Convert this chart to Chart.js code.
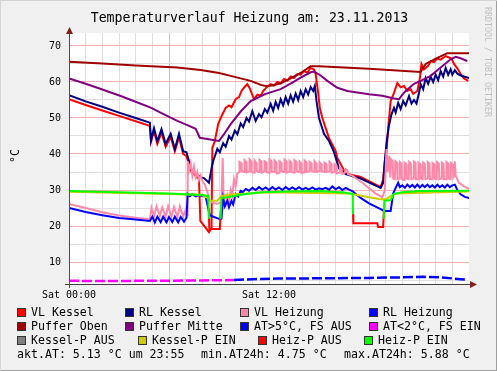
<!DOCTYPE html>
<html><head><meta charset="utf-8">
<script src="https://cdn.jsdelivr.net/npm/chart.js@4/dist/chart.umd.min.js"></script>
<style>
html,body{margin:0;padding:0;background:#f0f0f0;}
#wrap{position:relative;width:497px;height:371px;background:#f0f0f0;overflow:hidden;font-family:"DejaVu Sans Mono",monospace;color:#000;box-sizing:border-box;border-top:1px solid #d4d4d4;border-left:1px solid #d4d4d4;}
#frameR{position:absolute;right:0;top:0;width:1px;height:371px;background:#9e9e9e;}
#frameB{position:absolute;left:0;bottom:0;width:497px;height:1px;background:#9e9e9e;}
#c{position:absolute;left:0;top:0;}
.t{position:absolute;white-space:pre;}
#title{left:0;top:9px;width:497px;text-align:center;font-size:13.2px;line-height:16px;}
#ylab{left:0;top:148px;width:28px;text-align:center;font-size:11.5px;line-height:14px;transform:rotate(-90deg);}
#wm{left:482px;top:6px;font-size:8.3px;color:#c0c0c0;writing-mode:vertical-rl;line-height:9px;}
.lg{position:absolute;font-size:11.6px;line-height:14px;white-space:pre;}
.bx{position:absolute;width:7px;height:7px;border:1px solid #333;}
</style></head><body>
<div id="wrap">
<canvas id="c" width="497" height="371"></canvas>
<div id="title" class="t">Temperaturverlauf Heizung am: 23.11.2013</div>
<div id="ylab" class="t">°C</div>
<div id="wm" class="t">RRDTOOL / TOBI OETIKER</div>
<div id="legend"></div>
<div id="frameR"></div><div id="frameB"></div>
</div>
<script>
// ---- axes ----
const hourTicks = [0,1,2,3,4,5,6,7,8,9,10,11,12,13,14,15,16,17,18,19,20,21,22,23];
const hourLabels = {0:'Sat 00:00', 12:'Sat 12:00'};
const yTicks = [5,10,15,20,25,30,35,40,45,50,55,60,65,70];
const yMin = 3.9, yMax = 73.6;

// ---- series: [hour, °C] ----
const vlKessel = [[0,55.2],[1,53.6],[2,52.1],[3,50.6],[4,49.1],[4.85,47.8],[4.92,43.4],[5.1,46.3],[5.3,42.8],[5.55,46.0],[5.8,42.0],[6.1,44.8],[6.35,40.8],[6.6,44.6],[6.85,40.0],[7.05,39.4],[7.35,35.0],[7.5,34.4],[7.8,33.0],[7.88,21.4],[8.4,18.3],[8.55,19.5],[8.6,41.7],[8.75,43.6],[8.95,48.3],[9.15,50.5],[9.4,52.8],[9.6,53.5],[9.75,53],[10.0,55.2],[10.2,55.8],[10.35,57.5],[10.5,58.4],[10.7,59.4],[10.85,58.2],[11.1,55.2],[11.3,56.5],[11.5,56.2],[11.65,57.5],[11.85,58.5],[12.1,59.4],[12.3,59.0],[12.5,60.0],[12.7,59.6],[12.9,60.8],[13.1,60.4],[13.3,61.5],[13.5,61.1],[13.7,62.2],[13.9,62.0],[14.1,63.0],[14.3,62.6],[14.5,63.9],[14.7,63.5],[14.8,62.2],[14.95,57],[15.05,52.8],[15.2,50],[15.6,44.4],[16.0,40.8],[16.1,38.9],[16.6,34.6],[17.5,33.6],[18.5,31.3],[18.7,30.8],[18.85,33],[18.95,38],[19.05,40.8],[19.15,47.2],[19.3,54.7],[19.5,57],[19.7,59.7],[19.9,58.5],[20.1,58.9],[20.3,57.5],[20.5,58],[20.65,56.7],[20.9,57.5],[21.05,61],[21.15,65],[21.3,63.5],[21.4,63.9],[21.55,64.5],[21.7,65.8],[21.9,65.5],[22.1,66.5],[22.3,66.2],[22.6,67.2],[22.8,66.8],[22.95,66.5],[23.1,65],[23.3,63.8],[23.5,62.2],[23.7,61],[23.95,60.3]];
const rlKessel = [[0,56.3],[1,54.6],[2,53.1],[3,51.5],[4,50.0],[4.85,48.7],[4.92,43.8],[5.1,47.2],[5.3,43.6],[5.55,46.9],[5.8,42.8],[6.1,45.6],[6.35,41.4],[6.6,45.6],[6.85,40.8],[7.05,40.5],[7.35,35.5],[7.6,34.5],[7.9,33.5],[8.1,33.3],[8.4,32],[8.55,36],[8.65,38],[8.9,41.4],[9.05,40.5],[9.25,43],[9.4,42],[9.6,45],[9.75,44],[9.95,46.5],[10.1,45.5],[10.3,48.5],[10.45,47.5],[10.65,50],[10.8,49],[11.0,51.9],[11.2,49.2],[11.4,51.1],[11.55,50.2],[11.75,52.5],[11.9,51.5],[12.1,53.9],[12.25,52],[12.4,54.5],[12.55,52.8],[12.7,55.2],[12.85,53.5],[13.0,55.8],[13.15,54],[13.3,56.3],[13.45,54.5],[13.6,56.8],[13.75,55],[13.9,57.5],[14.05,55.8],[14.2,58],[14.35,56.5],[14.5,58.6],[14.65,57.5],[14.75,58.9],[14.85,54.7],[15.0,50],[15.3,45.6],[15.6,43.6],[15.9,40.5],[16.2,36],[16.6,34.4],[17.5,33.2],[18.5,31],[18.7,30.6],[18.85,32],[18.95,38],[19.05,43],[19.2,48],[19.35,51],[19.5,52.8],[19.6,51.5],[19.75,54.2],[19.9,52.5],[20.05,54.7],[20.2,53.5],[20.4,56.1],[20.55,54],[20.7,55],[20.85,54],[21.0,57],[21.1,59.4],[21.25,58],[21.4,61.1],[21.55,59.5],[21.7,61.5],[21.85,60],[22.0,62],[22.15,60.5],[22.3,63],[22.45,61.5],[22.6,63.9],[22.75,62],[22.9,63.5],[23.0,62],[23.15,63.3],[23.3,62.3],[23.5,61.8],[23.7,61.5],[24,61.1]];
const vlHeizung = [[0,26.1],[1,25.0],[2,23.8],[3,22.9],[4,22.3],[4.85,21.9],[4.95,25.0],[5.1,22.6],[5.25,25.5],[5.45,22.8],[5.6,25.2],[5.8,22.5],[5.95,25.5],[6.15,22.6],[6.3,25.3],[6.5,22.5],[6.65,25.5],[6.85,22.6],[7.0,24.5],[7.08,23],[7.12,38],[7.2,35.5],[7.3,37.5],[7.4,34],[7.5,36.5],[7.6,33.5],[7.7,35],[7.8,32.8],[7.9,34],[8.0,32.5],[8.15,31.5],[8.3,29.5],[8.45,27],[8.6,26.5],[8.9,26.2],[9.15,26.5],[9.22,38.9],[9.28,27],[9.4,25.8],[9.5,28.5],[9.6,26.5],[9.7,30],[9.8,28.5],[9.9,33],[10.0,31],[10.1,34.5],
 [10.2,35],[10.23,37.8],[10.33,37.5],[10.36,35.2],[10.5,35.0],[10.53,38.3],[10.63,37.8],[10.66,34.9],[10.8,35.2],[10.83,38.5],[10.93,38],[10.96,35],[11.1,34.8],[11.13,38.2],[11.23,37.6],[11.26,35.3],[11.4,35],[11.43,38.4],[11.53,38],[11.56,34.8],[11.7,35.2],[11.73,38],[11.83,37.7],[11.86,35],[12.0,34.7],[12.03,38.5],[12.13,38.1],[12.16,35.1],[12.3,35],[12.33,38.2],[12.43,37.7],[12.46,34.6],[12.6,34.8],[12.63,38],[12.73,37.6],[12.76,35.2],[12.9,35],[12.93,38.4],[13.03,38],[13.06,34.8],[13.2,35.1],[13.23,38.1],[13.33,37.6],[13.36,35],[13.5,34.8],[13.53,38.3],[13.63,37.9],[13.66,35.2],[13.8,35],[13.83,37.9],[13.93,37.5],[13.96,34.7],[14.1,34.9],[14.13,38.2],[14.23,37.8],[14.26,35],[14.4,35.2],[14.43,37.8],[14.53,37.5],[14.56,35.3],[14.7,35],[14.73,38],[14.83,37.4],[14.86,35.1],[15.0,35.3],[15.03,37.7],[15.13,37.3],[15.16,35.2],[15.3,35],[15.33,37.6],[15.43,37.2],[15.46,35],[15.6,35.2],[15.63,37.8],[15.73,37.3],[15.76,34.8],[15.9,35],[15.93,37.2],[16.03,36.8],[16.06,34.6],[16.2,34.8],[16.25,36.2],[16.35,35.8],[16.4,34.5],[16.55,34.8],[16.6,35.8],[16.7,35.5],[16.75,34.4],
 [17.0,34],[17.3,33],[17.6,32],[18.0,30.5],[18.4,29],[18.8,28],[18.95,30],[19.05,41.4],[19.12,35],[19.2,39.5],[19.28,33.5],
 [19.33,38.5],[19.42,38],[19.45,33.2],[19.55,33],[19.58,38],[19.68,37.6],[19.71,33],[19.82,33.2],[19.85,37.8],[19.95,37.4],[19.98,33],[20.1,32.8],[20.13,37.6],[20.23,37.2],[20.26,33.2],[20.38,33],[20.41,37.8],[20.51,37.3],[20.54,33],[20.66,33.2],[20.69,37.9],[20.79,37.5],[20.82,33],[20.94,33],[20.97,37.6],[21.07,37.2],[21.1,33.3],[21.22,33],[21.25,37.6],[21.35,37.2],[21.38,33],[21.5,33.2],[21.53,37.8],[21.63,37.4],[21.66,33],[21.78,33],[21.81,37.5],[21.91,37.1],[21.94,33.2],[22.06,33],[22.09,37.8],[22.19,37.4],[22.22,33],[22.34,33.2],[22.37,37.6],[22.47,37.2],[22.5,33],[22.62,33],[22.65,37.8],[22.75,37.4],[22.78,33.2],[22.9,33],[22.93,37.5],[23.03,37.1],[23.06,33.5],[23.12,34],[23.15,38],[23.2,34],[23.4,32],[23.7,31],[24,30.3]];
const rlHeizung = [[0,25.0],[1,23.9],[2,23.0],[3,22.2],[4,21.8],[4.85,21.4],[5.0,22.6],[5.15,21.0],[5.3,22.6],[5.5,21.1],[5.65,22.6],[5.85,21.0],[6.0,22.5],[6.2,21.1],[6.35,22.6],[6.55,21.0],[6.7,22.5],[6.9,21.2],[7.05,22.3],[7.12,28.9],[7.25,28.3],[7.4,28.8],[7.6,28.2],[7.8,28.6],[8.0,28.3],[8.2,28.2],[8.35,25],[8.45,23],[8.7,22.5],[9.0,22],[9.15,22],[9.25,27.8],[9.35,25.5],[9.5,27],[9.6,25.2],[9.75,27],[9.85,26],[10.0,28.9],[10.15,28.2],[10.3,29.8],[10.45,29.5],[10.6,30.3],[10.8,29.8],[11.0,30.6],[11.2,30],[11.4,30.8],[11.6,30.1],[11.8,30.7],[12.0,30],[12.2,30.8],[12.4,30.1],[12.6,30.7],[12.8,30],[13.0,30.8],[13.2,30.1],[13.4,30.7],[13.6,30.1],[13.8,30.8],[14.0,30.1],[14.2,30.6],[14.4,30.1],[14.6,30.7],[14.8,30.1],[15.0,30.5],[15.2,30.2],[15.4,30.6],[15.6,30.1],[15.8,31],[16.0,30.2],[16.2,30.8],[16.4,30],[16.6,30.6],[16.8,30.1],[17.0,29.7],[17.5,27.8],[18.0,26.3],[18.7,24.7],[18.9,24.2],[19.3,24.2],[19.45,29],[19.6,30.6],[19.75,32],[19.85,30.8],[20.0,31.3],[20.15,30.6],[20.3,31.5],[20.45,30.8],[20.6,31.4],[20.75,30.7],[20.9,31.5],[21.05,30.7],[21.2,31.4],[21.35,30.8],[21.5,31.5],[21.65,30.8],[21.8,31.3],[21.95,30.7],[22.1,31.5],[22.25,30.8],[22.4,31.3],[22.55,30.7],[22.7,31.5],[22.85,30.8],[23.0,31.3],[23.15,31.5],[23.3,30],[23.5,28.8],[23.75,28.1],[24,27.8]];
const pufferOben = [[0,65.6],[2,65.1],[4,64.6],[6.5,64.0],[7.9,63.3],[9.0,62.5],[9.7,61.7],[10.3,61.0],[10.9,60.3],[11.5,59.2],[11.8,58.9],[12.2,59.0],[12.7,59.6],[13.3,61.0],[13.9,62.5],[14.5,64.4],[15,64.4],[18,63.7],[21.1,62.8],[21.4,65],[22.1,66.7],[22.7,68],[24,68]];
const pufferMitte = [[0,61.0],[1,59.5],[2,57.9],[3.1,56.1],[4.0,54.5],[4.9,52.9],[5.7,51.0],[6.5,49.2],[7.1,48.0],[7.6,47.0],[7.85,44.5],[9.0,43.6],[9.3,45.5],[9.7,48.3],[10.3,51.8],[10.9,54.7],[11.8,56.7],[12.7,58.0],[13.4,59.8],[13.9,61.2],[14.5,62.7],[14.7,62.9],[15.1,61.8],[15.5,60.3],[16.1,58.4],[16.7,57.5],[18.0,56.6],[18.8,56.2],[19.5,55.4],[19.8,55.2],[20.0,56.5],[20.2,57.5],[20.7,59.5],[21.1,60.3],[21.7,61.7],[22.3,64],[22.9,66.3],[23.2,67],[23.5,66.6],[23.9,65.8]];
const atHigh = [[9.9,5.0],[10.5,5.15],[11.5,5.3],[12.5,5.4],[14,5.45],[16,5.5],[18,5.6],[20,5.75],[21.3,5.88],[22.3,5.75],[23,5.45],[23.5,5.25],[23.9,5.13]];
const atLow = [[0,4.78],[1,4.76],[2,4.75],[3,4.76],[4,4.77],[5,4.8],[6,4.83],[7,4.86],[8,4.9],[9,4.95],[9.9,5.0]];
const kesselPAus = [];
const kesselPEin = [[0,29.5],[4,29.1],[7.9,28.7],[8.3,27.8],[8.45,27.0],[8.9,27.0],[9.1,28.2],[9.5,28.7],[12,29.4],[16.8,29.0],[17.3,28.6],[18.0,28.0],[18.6,27.5],[19.0,27.4],[19.3,28.3],[19.6,29.0],[24,29.6]];
const heizPAus = [[8.38,25],[8.42,19.2],[9.05,19.2],[9.1,24],[9.12,null],[17.0,null],[17.04,23.3],[17.06,20.8],[18.5,20.8],[18.55,19.7],[18.85,19.7],[18.9,25]];
const heizPEin = [[0,29.7],[3,29.4],[6,29.0],[8.0,28.6],[8.35,28.3],[8.4,22],[8.42,null],[9.08,null],[9.1,22],[9.15,27.8],[9.5,28.0],[10.5,28.8],[11.5,29.4],[13,29.6],[15,29.7],[16.5,29.3],[17.02,28.9],[17.04,23.3],[17.06,null],[18.85,null],[18.88,22],[18.92,27],[19.3,27.2],[19.5,28.9],[20,29.4],[21,29.7],[24,29.8]];

// ---- footer stats ----
const aktAT = '5.13', aktTime = '23:55', minAT = '4.75', maxAT = '5.88';

// ---- series definitions (legend order == draw order) ----
const series = [
  {label:'VL Kessel', data:vlKessel, color:'#FF0000'},
  {label:'RL Kessel', data:rlKessel, color:'#000080'},
  {label:'VL Heizung', data:vlHeizung, color:'#FF88AA'},
  {label:'RL Heizung', data:rlHeizung, color:'#0000FF'},
  {label:'Puffer Oben', data:pufferOben, color:'#A00000'},
  {label:'Puffer Mitte', data:pufferMitte, color:'#800080'},
  {label:'AT>5°C, FS AUS', data:atHigh, color:'#0000FF', dash:true},
  {label:'AT<2°C, FS EIN', data:atLow, color:'#FF00FF', dash:true},
  {label:'Kessel-P AUS', data:kesselPAus, color:'#808080'},
  {label:'Kessel-P EIN', data:kesselPEin, color:'#CCCC00'},
  {label:'Heiz-P AUS', data:heizPAus, color:'#FF0000'},
  {label:'Heiz-P EIN', data:heizPEin, color:'#00FF00'}
];

// ---- legend (HTML) ----
const legendPos = [
  [16,307],[124,307],[239,307],[368,307],
  [16,321],[124,321],[239,321],[368,321],
  [16,335],[137,335],[257,335],[363,335]
];
const lg = document.getElementById('legend');
series.forEach((s,i)=>{
  const [x,y] = legendPos[i];
  const b = document.createElement('div'); b.className='bx';
  b.style.left = x+'px'; b.style.top = y+'px'; b.style.background = s.color;
  lg.appendChild(b);
  const t = document.createElement('div'); t.className='lg';
  t.style.left = (x+14)+'px'; t.style.top = (y-3)+'px'; t.textContent = s.label;
  lg.appendChild(t);
});
[[16,'akt.AT: '+aktAT+' °C um '+aktTime],[200,'min.AT24h: '+minAT+' °C'],[343,'max.AT24h: '+maxAT+' °C']].forEach(([x,txt])=>{
  const t = document.createElement('div'); t.className='lg';
  t.style.left = x+'px'; t.style.top = '346px'; t.textContent = txt;
  lg.appendChild(t);
});

// ---- chart ----
const N = series.length;
const datasets = series.map((s,i)=>({
  label:s.label, data:s.data, borderColor:s.color, backgroundColor:s.color,
  borderWidth: s.dash ? 2.5 : 2, borderDash: s.dash ? [10,3] : [],
  pointRadius:0, tension:0, fill:false, spanGaps:false, order:N-i
}));

const MAJOR = '#f2b2b2', MINOR = '#dedede';
const framePlugin = {
  id:'frame',
  beforeDraw(chart){
    const {ctx, chartArea:a} = chart;
    ctx.save(); ctx.fillStyle='#ffffff';
    ctx.fillRect(a.left, a.top, a.right-a.left, a.bottom-a.top);
    ctx.restore();
  },
  afterDraw(chart){
    const {ctx, chartArea:a} = chart;
    ctx.save(); ctx.lineWidth=1;
    ctx.strokeStyle='#404040';
    ctx.beginPath(); ctx.moveTo(a.left-4, a.bottom+0.5); ctx.lineTo(a.right+2, a.bottom+0.5); ctx.stroke();
    ctx.strokeStyle='#8a3535';
    ctx.beginPath(); ctx.moveTo(a.left+0.5, a.bottom+4); ctx.lineTo(a.left+0.5, a.top-2); ctx.stroke();
    ctx.fillStyle='#7f1f1f';
    ctx.beginPath(); ctx.moveTo(a.right+8, a.bottom+0.5); ctx.lineTo(a.right+1, a.bottom-3); ctx.lineTo(a.right+1, a.bottom+4); ctx.closePath(); ctx.fill();
    ctx.beginPath(); ctx.moveTo(a.left+0.5, a.top-6); ctx.lineTo(a.left-3, a.top+1); ctx.lineTo(a.left+4, a.top+1); ctx.closePath(); ctx.fill();
    ctx.restore();
  }
};

new Chart(document.getElementById('c'), {
  type:'line',
  data:{datasets},
  options:{
    responsive:false, animation:false, devicePixelRatio:1,
    layout:{padding:{left:28, right:29, top:32, bottom:68}},
    plugins:{legend:{display:false}, tooltip:{enabled:false}, title:{display:false}},
    scales:{
      x:{type:'linear', min:0, max:24,
        afterBuildTicks:(sc)=>{ sc.ticks = hourTicks.map(v=>({value:v})); },
        afterFit:(sc)=>{ sc.height = 20; },
        ticks:{autoSkip:false, maxRotation:0, minRotation:0, padding:5, color:'#000',
          font:{family:'DejaVu Sans Mono', size:10},
          callback:(v)=> hourLabels[v] || ''},
        grid:{drawTicks:false, lineWidth:1, color:(c)=> (c.tick && c.tick.value % 6 === 0) ? MAJOR : MINOR},
        border:{display:false}
      },
      y:{type:'linear', min:yMin, max:yMax,
        afterBuildTicks:(sc)=>{ sc.ticks = yTicks.map(v=>({value:v})); },
        afterFit:(sc)=>{ sc.width = 40; },
        ticks:{padding:8, color:'#000', font:{family:'DejaVu Sans Mono', size:10},
          callback:(v)=> (v % 10 === 0) ? String(v) : ''},
        grid:{drawTicks:false, lineWidth:1, color:(c)=> (c.tick && c.tick.value % 10 === 0) ? MAJOR : MINOR},
        border:{display:false}
      }
    }
  },
  plugins:[framePlugin]
});
</script>
</body></html>
